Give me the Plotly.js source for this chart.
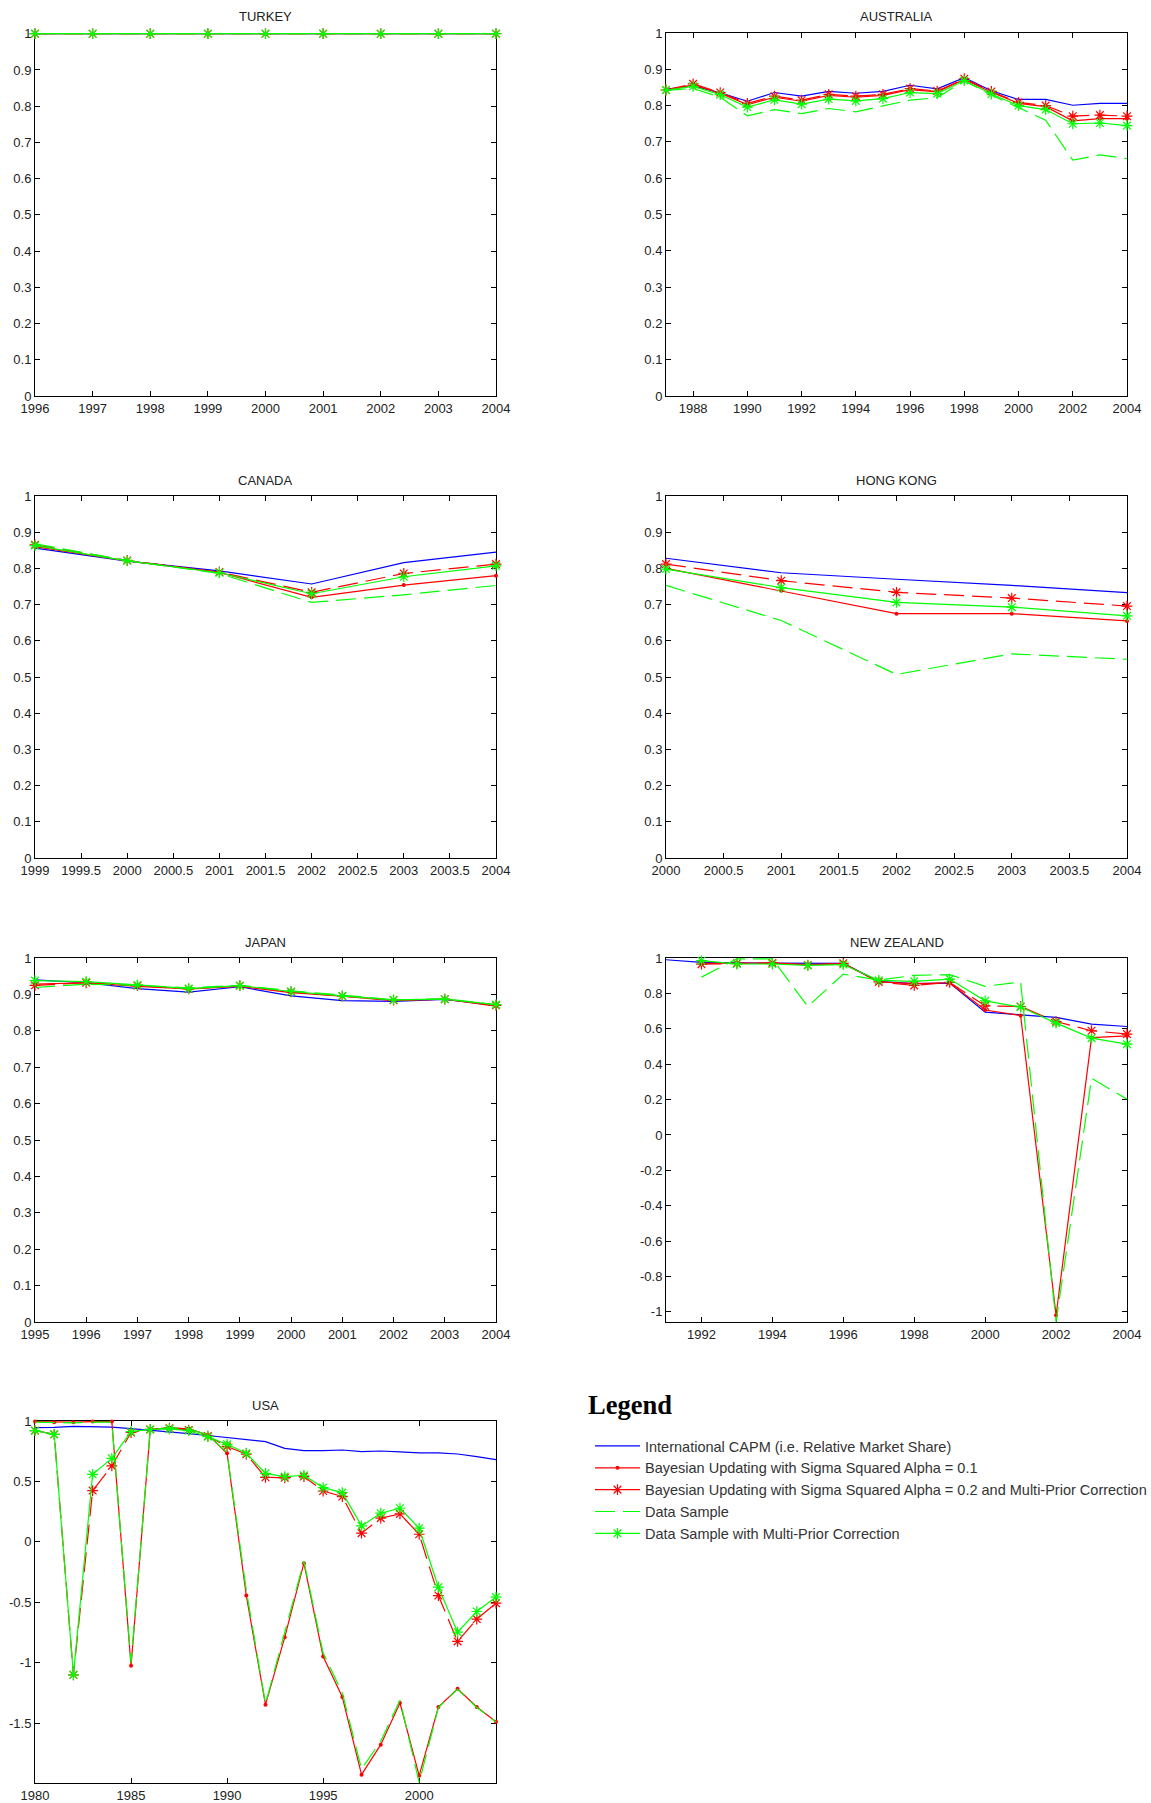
<!DOCTYPE html>
<html>
<head>
<meta charset="utf-8">
<script src="https://cdn.plot.ly/plotly-3.0.1.min.js"></script>
<style>html,body{margin:0;padding:0;background:#fff;overflow:hidden;}#chart{width:1151px;height:1803px;}</style>
</head>
<body>
<div id="chart"></div>
<script>
// ---------- DATA ----------
const seriesNames = [
  "International CAPM (i.e. Relative Market Share)",
  "Bayesian Updating with Sigma Squared Alpha = 0.1",
  "Bayesian Updating with Sigma Squared Alpha = 0.2 and Multi-Prior Correction",
  "Data Sample",
  "Data Sample with Multi-Prior Correction"
];
const countryTitles = ["TURKEY", "AUSTRALIA", "CANADA", "HONG KONG", "JAPAN", "NEW ZEALAND", "USA"];

// TURKEY
const turYears  = [1996,1997,1998,1999,2000,2001,2002,2003,2004];
const turCapm   = [1,1,1,1,1,1,1,1,1];
const turBayes1 = [1,1,1,1,1,1,1,1,1];
const turBayes2 = [1,1,1,1,1,1,1,1,1];
const turData   = [1,1,1,1,1,1,1,1,1];
const turDataMP = [1,1,1,1,1,1,1,1,1];

// AUSTRALIA
const ausYears  = [1987,1988,1989,1990,1991,1992,1993,1994,1995,1996,1997,1998,1999,2000,2001,2002,2003,2004];
const ausCapm   = [0.845,0.855,0.835,0.812,0.836,0.826,0.839,0.834,0.839,0.856,0.846,0.877,0.841,0.817,0.817,0.801,0.806,0.806];
const ausBayes1 = [0.842,0.857,0.834,0.803,0.823,0.812,0.828,0.823,0.828,0.844,0.838,0.872,0.837,0.806,0.797,0.758,0.764,0.764];
const ausBayes2 = [0.843,0.860,0.836,0.806,0.826,0.815,0.831,0.826,0.831,0.847,0.840,0.874,0.839,0.809,0.800,0.771,0.774,0.771];
const ausData   = [0.842,0.847,0.823,0.772,0.789,0.778,0.792,0.783,0.799,0.815,0.822,0.868,0.829,0.794,0.760,0.650,0.664,0.654];
const ausDataMP = [0.843,0.853,0.830,0.796,0.816,0.804,0.818,0.813,0.819,0.836,0.833,0.869,0.832,0.800,0.789,0.750,0.752,0.745];

// CANADA
const canYears  = [1999,2000,2001,2002,2003,2004];
const canCapm   = [0.856,0.820,0.793,0.757,0.816,0.845];
const canBayes1 = [0.860,0.821,0.789,0.720,0.754,0.780];
const canBayes2 = [0.865,0.822,0.790,0.734,0.786,0.812];
const canData   = [0.868,0.822,0.786,0.706,0.727,0.753];
const canDataMP = [0.863,0.821,0.788,0.730,0.777,0.807];

// HONG KONG
const hkgYears  = [2000,2001,2002,2003,2004];
const hkgCapm   = [0.828,0.788,0.770,0.753,0.733];
const hkgBayes1 = [0.800,0.738,0.675,0.675,0.655];
const hkgBayes2 = [0.812,0.766,0.734,0.718,0.696];
const hkgData   = [0.753,0.656,0.507,0.564,0.549];
const hkgDataMP = [0.798,0.747,0.706,0.693,0.669];

// JAPAN
const jpnYears  = [1995,1996,1997,1998,1999,2000,2001,2002,2003,2004];
const jpnCapm   = [0.940,0.932,0.916,0.906,0.921,0.896,0.883,0.881,0.886,0.870];
const jpnBayes1 = [0.928,0.932,0.922,0.915,0.922,0.905,0.895,0.883,0.887,0.868];
const jpnBayes2 = [0.925,0.932,0.924,0.915,0.924,0.907,0.895,0.884,0.887,0.870];
const jpnData   = [0.919,0.928,0.925,0.918,0.925,0.910,0.898,0.885,0.888,0.872];
const jpnDataMP = [0.938,0.935,0.926,0.916,0.924,0.908,0.896,0.885,0.887,0.872];

// NEW ZEALAND
const nzlYears  = [1991,1992,1993,1994,1995,1996,1997,1998,1999,2000,2001,2002,2003,2004];
const nzlCapm   = [0.990,0.975,0.972,0.970,0.970,0.970,0.868,0.855,0.858,0.694,0.679,0.664,0.626,0.613];
const nzlBayes1 = [null,0.970,0.972,0.972,0.962,0.968,0.865,0.855,0.860,0.706,0.675,-1.019,0.550,0.560];
const nzlBayes2 = [null,0.965,0.970,0.972,0.960,0.970,0.865,0.845,0.862,0.730,0.726,0.641,0.589,0.570];
const nzlData   = [null,0.892,0.995,0.995,0.726,0.909,0.875,0.902,0.906,0.840,0.864,-1.057,0.320,0.202];
const nzlDataMP = [null,0.985,0.966,0.966,0.958,0.963,0.874,0.868,0.881,0.758,0.723,0.632,0.547,0.513];

// USA
const usaYears  = [1980,1981,1982,1983,1984,1985,1986,1987,1988,1989,1990,1991,1992,1993,1994,1995,1996,1997,1998,1999,2000,2001,2002,2003,2004];
const usaCapm   = [0.945,0.947,0.956,0.952,0.950,0.937,0.925,0.910,0.895,0.880,0.862,0.850,0.829,0.774,0.755,0.755,0.760,0.746,0.752,0.745,0.737,0.737,0.727,0.705,0.680];
const usaBayes1 = [0.995,0.990,0.990,0.995,0.995,-1.025,0.930,0.945,0.935,0.885,0.733,-0.444,-1.347,-0.790,-0.176,-0.948,-1.284,-1.926,-1.678,-1.333,-1.934,-1.366,-1.215,-1.366,-1.488];
const usaBayes2 = [0.920,0.890,-1.100,0.424,0.628,0.905,0.930,0.940,0.925,0.875,0.790,0.725,0.534,0.530,0.540,0.421,0.375,0.072,0.196,0.231,0.063,-0.444,-0.824,-0.639,-0.507];
const usaData   = [0.990,0.985,0.985,0.990,0.990,-1.000,0.930,0.945,0.935,0.885,0.740,-0.400,-1.340,-0.750,-0.160,-0.920,-1.250,-1.880,-1.650,-1.310,-1.990,-1.370,-1.220,-1.370,-1.490];
const usaDataMP = [0.920,0.890,-1.100,0.559,0.691,0.912,0.930,0.935,0.920,0.870,0.807,0.733,0.567,0.540,0.551,0.449,0.408,0.132,0.237,0.278,0.113,-0.375,-0.747,-0.576,-0.457];

// tick values
const ticks01     = [0,0.1,0.2,0.3,0.4,0.5,0.6,0.7,0.8,0.9,1];
const turXTicks   = [1996,1997,1998,1999,2000,2001,2002,2003,2004];
const ausXTicks   = [1988,1990,1992,1994,1996,1998,2000,2002,2004];
const canXTicks   = [1999,1999.5,2000,2000.5,2001,2001.5,2002,2002.5,2003,2003.5,2004];
const hkgXTicks   = [2000,2000.5,2001,2001.5,2002,2002.5,2003,2003.5,2004];
const jpnXTicks   = [1995,1996,1997,1998,1999,2000,2001,2002,2003,2004];
const nzlXTicks   = [1992,1994,1996,1998,2000,2002,2004];
const nzlYTicks   = [-1,-0.8,-0.6,-0.4,-0.2,0,0.2,0.4,0.6,0.8,1];
const usaXTicks   = [1980,1985,1990,1995,2000];
const usaYTicks   = [-1.5,-1,-0.5,0,0.5,1];

// ---------- STYLES ----------
const DASH = '20px,8px';
const styles = [
  {mode:'lines', line:{color:'#0000ff', width:1.2}},
  {mode:'lines+markers', line:{color:'#ff0000', width:1.2}, marker:{symbol:'circle', size:4, color:'#ff0000'}},
  {mode:'lines+markers', line:{color:'#ff0000', width:1.2, dash:DASH}, marker:{symbol:'asterisk-open', size:9, color:'#ff0000', line:{color:'#ff0000', width:1.2}}},
  {mode:'lines', line:{color:'#00ff00', width:1.2, dash:DASH}},
  {mode:'lines+markers', line:{color:'#00ff00', width:1.2}, marker:{symbol:'asterisk-open', size:9, color:'#00ff00', line:{color:'#00ff00', width:1.2}}}
];

const countries = [
  {x: turYears, ys:[turCapm,turBayes1,turBayes2,turData,turDataMP], xt: turXTicks, yt: ticks01, xr:[1996,2004], yr:[0,1.002], topLine:false},
  {x: ausYears, ys:[ausCapm,ausBayes1,ausBayes2,ausData,ausDataMP], xt: ausXTicks, yt: ticks01, xr:[1987,2004], yr:[0,1], topLine:true},
  {x: canYears, ys:[canCapm,canBayes1,canBayes2,canData,canDataMP], xt: canXTicks, yt: ticks01, xr:[1999,2004], yr:[0,1], topLine:true},
  {x: hkgYears, ys:[hkgCapm,hkgBayes1,hkgBayes2,hkgData,hkgDataMP], xt: hkgXTicks, yt: ticks01, xr:[2000,2004], yr:[0,1], topLine:true},
  {x: jpnYears, ys:[jpnCapm,jpnBayes1,jpnBayes2,jpnData,jpnDataMP], xt: jpnXTicks, yt: ticks01, xr:[1995,2004], yr:[0,1], topLine:true},
  {x: nzlYears, ys:[nzlCapm,nzlBayes1,nzlBayes2,nzlData,nzlDataMP], xt: nzlXTicks, yt: nzlYTicks, xr:[1991,2004], yr:[-1.057,1], topLine:true},
  {x: usaYears, ys:[usaCapm,usaBayes1,usaBayes2,usaData,usaDataMP], xt: usaXTicks, yt: usaYTicks, xr:[1980,2004], yr:[-1.995,1], topLine:true}
];

// panel placement in pixels (left, right, top, bottom)
const W = 1151, H = 1803;
const colX = [[35,496],[666,1127]];
const rowY = [[33,396],[496,858],[958,1322],[1421,1783]];

const traces = [];
const layout = {
  width: W, height: H,
  margin:{l:0,r:0,t:0,b:0,autoexpand:false},
  paper_bgcolor:'#ffffff', plot_bgcolor:'#ffffff',
  font:{family:'Liberation Sans, Arial, sans-serif', size:13, color:'#222'},
  showlegend:true,
  legend:{x:590/W, y:1-1430/H, xanchor:'left', yanchor:'top',
          font:{family:'Liberation Sans, Arial, sans-serif', size:14.5, color:'#333'},
          itemwidth:45, bgcolor:'rgba(0,0,0,0)', borderwidth:0, tracegroupgap:0},
  annotations:[],
  shapes:[]
};

countries.forEach((c, i) => {
  const n = i + 1;
  const xa = n === 1 ? 'x' : 'x' + n;
  const ya = n === 1 ? 'y' : 'y' + n;
  c.ys.forEach((yv, k) => {
    const t = Object.assign({
      type:'scatter', x:c.x, y:yv, xaxis:xa, yaxis:ya,
      name: seriesNames[k], showlegend: i === 0, cliponaxis:false,
      hoverinfo:'skip', connectgaps:false
    }, JSON.parse(JSON.stringify(styles[k])));
    traces.push(t);
  });
  const col = i % 2, row = Math.floor(i / 2);
  const px = colX[col], py = rowY[row];
  const axCommon = {
    showline:true, linecolor:'#000', linewidth:1, mirror:'ticks',
    ticks:'inside', ticklen:5, tickcolor:'#000', tickwidth:1,
    showgrid:false, zeroline:false, layer:'below traces',
    tickfont:{family:'Liberation Sans, Arial, sans-serif', size:13, color:'#222'},
    fixedrange:true, automargin:false
  };
  layout['xaxis' + (n === 1 ? '' : n)] = Object.assign({}, axCommon, {
    domain:[px[0]/W, px[1]/W], anchor: ya, range:c.xr,
    mirror: c.topLine ? 'ticks' : false,
    tickmode:'array', tickvals:c.xt, ticktext:c.xt.map(String)
  });
  layout['yaxis' + (n === 1 ? '' : n)] = Object.assign({}, axCommon, {
    domain:[1 - py[1]/H, 1 - py[0]/H], anchor: xa, range:c.yr,
    tickmode:'array', tickvals:c.yt, ticktext:c.yt.map(String)
  });
  layout.annotations.push({
    text: countryTitles[i], xref:'paper', yref:'paper',
    x:(px[0]+px[1])/2/W, y:1 - (py[0]-16)/H, xanchor:'center', yanchor:'middle',
    showarrow:false, font:{family:'Liberation Sans, Arial, sans-serif', size:13, color:'#222'}
  });
});

layout.annotations.push({
  text:'<b>Legend</b>', xref:'paper', yref:'paper', x:586/W, y:1-1405/H,
  xanchor:'left', yanchor:'middle', showarrow:false,
  font:{family:'Liberation Serif, Times New Roman, serif', size:26.5, color:'#000'}
});

Plotly.newPlot('chart', traces, layout, {displayModeBar:false, staticPlot:true});
</script>
</body>
</html>
